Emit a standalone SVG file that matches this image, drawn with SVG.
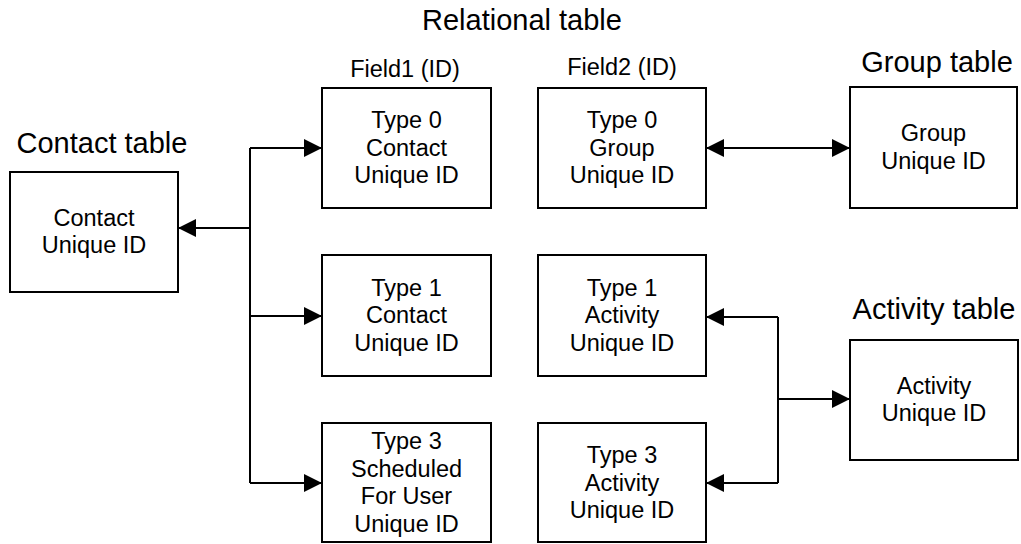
<svg xmlns="http://www.w3.org/2000/svg" width="1021" height="544" viewBox="0 0 1021 544">
<defs>
<style>
.box{fill:#fff;stroke:#000;stroke-width:2}
.conn{fill:none;stroke:#000;stroke-width:2}
text{font-family:"Liberation Sans",Arial,sans-serif;fill:#000;text-anchor:middle}
.in{font-size:23.5px}
.hd{font-size:29px}
.fl{font-size:23.5px}
</style>
<marker id="ah" markerUnits="userSpaceOnUse" markerWidth="18" markerHeight="18" viewBox="0 0 18 18" refX="18" refY="9" orient="auto-start-reverse">
<path d="M0,0 L18,9 L0,18 z" fill="#000"/>
</marker>
</defs>
<rect width="1021" height="544" fill="#fff"/>
<g id="labels">
<text class="hd" x="522" y="30">Relational table</text>
<text class="fl" x="405" y="77">Field1 (ID)</text>
<text class="fl" x="622" y="75">Field2 (ID)</text>
<text class="hd" x="102" y="153">Contact table</text>
<text class="hd" x="937" y="72">Group table</text>
<text class="hd" x="934" y="319">Activity table</text>
</g>
<g id="connectors">
<path class="conn" d="M250,148 V483"/>
<path class="conn" d="M250,228 H178" marker-end="url(#ah)"/>
<path class="conn" d="M250,148 H322" marker-end="url(#ah)"/>
<path class="conn" d="M250,316 H322" marker-end="url(#ah)"/>
<path class="conn" d="M250,483 H322" marker-end="url(#ah)"/>
<path class="conn" d="M706,148 H850" marker-start="url(#ah)" marker-end="url(#ah)"/>
<path class="conn" d="M778,317 V483"/>
<path class="conn" d="M778,317 H706" marker-end="url(#ah)"/>
<path class="conn" d="M778,483 H706" marker-end="url(#ah)"/>
<path class="conn" d="M778,399 H850" marker-end="url(#ah)"/>
</g>
<g id="contact">
<rect class="box" x="10" y="172" width="168" height="120"/>
<text class="in" x="94" y="225.5">Contact</text>
<text class="in" x="94" y="253">Unique ID</text>
</g>
<g id="type0-contact">
<rect class="box" x="322" y="88" width="169" height="120"/>
<text class="in" x="406.5" y="128">Type 0</text>
<text class="in" x="406.5" y="155.5">Contact</text>
<text class="in" x="406.5" y="183">Unique ID</text>
</g>
<g id="type1-contact">
<rect class="box" x="322" y="255" width="169" height="121"/>
<text class="in" x="406.5" y="295.5">Type 1</text>
<text class="in" x="406.5" y="323">Contact</text>
<text class="in" x="406.5" y="350.5">Unique ID</text>
</g>
<g id="type3-user">
<rect class="box" x="322" y="423" width="169" height="119"/>
<text class="in" x="406.5" y="449">Type 3</text>
<text class="in" x="406.5" y="476.5">Scheduled</text>
<text class="in" x="406.5" y="504">For User</text>
<text class="in" x="406.5" y="531.5">Unique ID</text>
</g>
<g id="type0-group">
<rect class="box" x="538" y="88" width="168" height="120"/>
<text class="in" x="622" y="128">Type 0</text>
<text class="in" x="622" y="155.5">Group</text>
<text class="in" x="622" y="183">Unique ID</text>
</g>
<g id="type1-activity">
<rect class="box" x="538" y="255" width="168" height="121"/>
<text class="in" x="622" y="295.5">Type 1</text>
<text class="in" x="622" y="323">Activity</text>
<text class="in" x="622" y="350.5">Unique ID</text>
</g>
<g id="type3-activity">
<rect class="box" x="538" y="423" width="168" height="119"/>
<text class="in" x="622" y="463">Type 3</text>
<text class="in" x="622" y="490.5">Activity</text>
<text class="in" x="622" y="518">Unique ID</text>
</g>
<g id="group">
<rect class="box" x="850" y="87" width="167" height="121"/>
<text class="in" x="933.5" y="141">Group</text>
<text class="in" x="933.5" y="168.5">Unique ID</text>
</g>
<g id="activity">
<rect class="box" x="850" y="340" width="168" height="120"/>
<text class="in" x="934" y="393.5">Activity</text>
<text class="in" x="934" y="421">Unique ID</text>
</g>
</svg>
